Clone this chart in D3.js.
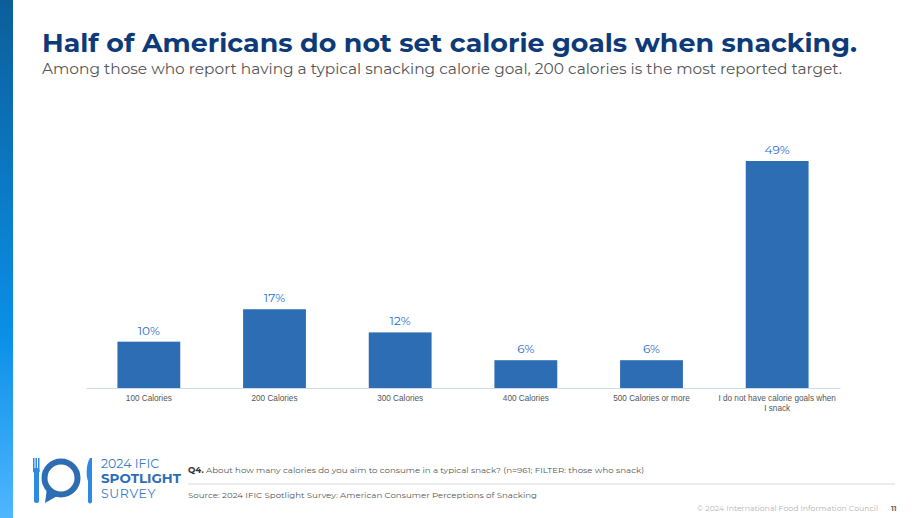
<!DOCTYPE html>
<html>
<head>
<meta charset="utf-8">
<script src="https://cdn.jsdelivr.net/npm/d3@7"></script>
<style>
  body { margin: 0; background: #fff; }
  svg { display: block; font-family: Montserrat, "Open Sans", "Noto Sans", sans-serif; }
</style>
</head>
<body>
<svg id="chart" width="920" height="518"></svg>
<script>
// chart data
const categories = ["100 Calories", "200 Calories", "300 Calories", "400 Calories", "500 Calories or more", "I do not have calorie goals when I snack"];
const values = [10, 17, 12, 6, 6, 49];

const title = "Half of Americans do not set calorie goals when snacking.";
const subtitle = "Among those who report having a typical snacking calorie goal, 200 calories is the most reported target.";

const svg = d3.select("#chart");

// left accent strip
const grad = svg.append("defs").append("linearGradient")
  .attr("id", "strip").attr("x1", 0).attr("x2", 0).attr("y1", 0).attr("y2", 1);
grad.append("stop").attr("offset", "0%").attr("stop-color", "#0c5e9a");
grad.append("stop").attr("offset", "65%").attr("stop-color", "#0a90e8");
grad.append("stop").attr("offset", "100%").attr("stop-color", "#50b6ff");
svg.append("rect").attr("x", 0).attr("y", 0).attr("width", 13).attr("height", 518).attr("fill", "url(#strip)");

// heading
svg.append("text")
  .attr("x", 42).attr("y", 52)
  .attr("fill", "#0d3a78")
  .attr("font-size", 26).attr("font-weight", 700)
  .attr("textLength", 815).attr("lengthAdjust", "spacingAndGlyphs")
  .text(title);
svg.append("text")
  .attr("x", 42).attr("y", 74)
  .attr("fill", "#555")
  .attr("font-size", 15)
  .attr("textLength", 800).attr("lengthAdjust", "spacingAndGlyphs")
  .text(subtitle);

// scales
const x = d3.scaleBand().domain(categories).range([86, 840]).paddingInner(0.5).paddingOuter(0.25);
const y = d3.scaleLinear().domain([0, 49]).range([388, 161]);

const g = svg.append("g");

g.selectAll("rect.bar")
  .data(values)
  .enter()
  .append("rect")
  .attr("class", "bar")
  .attr("x", (d, i) => x(categories[i]))
  .attr("y", (d) => y(d))
  .attr("width", x.bandwidth())
  .attr("height", (d) => y(0) - y(d))
  .attr("fill", "#2d6db4");

g.selectAll("text.val")
  .data(values)
  .enter()
  .append("text")
  .attr("class", "val")
  .attr("x", (d, i) => x(categories[i]) + x.bandwidth() / 2)
  .attr("y", (d) => y(d) - 7)
  .attr("text-anchor", "middle")
  .attr("fill", "#1f6fd0")
  .attr("font-size", 12)
  .text((d) => d + "%");

// axis
const axis = svg.append("g")
  .attr("transform", "translate(0," + y(0) + ")")
  .call(d3.axisBottom(x).tickSize(0).tickPadding(0));
axis.select(".domain").attr("stroke", "#c9def4").attr("stroke-width", 1.2);
axis.selectAll(".tick text").remove();

// category labels, wrapped
categories.forEach((c) => {
  const lines = c.length > 24 ? ["I do not have calorie goals when", "I snack"] : [c];
  const t = axis.append("text")
    .attr("x", x(c) + x.bandwidth() / 2)
    .attr("y", 13)
    .attr("text-anchor", "middle")
    .attr("fill", "#555")
    .attr("font-size", 8.2);
  lines.forEach((l, i) => {
    t.append("tspan").attr("x", x(c) + x.bandwidth() / 2).attr("dy", i ? 9.5 : 0).text(l);
  });
});

// footer logo
const logo = svg.append("g");
const blue = "#2d6db4";
// fork
logo.append("rect").attr("x", 34).attr("y", 470).attr("width", 5).attr("height", 33).attr("rx", 2.5).attr("fill", "#2d8ae0");
[33, 35.5, 38].forEach((fx) => {
  logo.append("rect").attr("x", fx).attr("y", 458).attr("width", 1.5).attr("height", 14).attr("fill", "#2d8ae0");
});
logo.append("rect").attr("x", 33).attr("y", 468).attr("width", 6.5).attr("height", 5).attr("rx", 2).attr("fill", "#2d8ae0");
// plate / speech bubble
logo.append("circle").attr("cx", 61).attr("cy", 478).attr("r", 16.5).attr("fill", "none").attr("stroke", blue).attr("stroke-width", 6);
logo.append("path").attr("d", "M47,488 L45,503 L59,495 Z").attr("fill", blue);
// knife
logo.append("path").attr("d", "M90,458 C86,464 86,476 88,481 L88,502 Q90,505 92,502 L92,458 Z").attr("fill", "#2d8ae0");

logo.append("text").attr("x", 101).attr("y", 468).attr("fill", "#3a7cc8").attr("font-size", 12.5).text("2024 IFIC");
logo.append("text").attr("x", 101).attr("y", 483).attr("fill", "#2d6db4").attr("font-size", 12.5).attr("font-weight", 700)
  .attr("textLength", 80).attr("lengthAdjust", "spacingAndGlyphs").text("SPOTLIGHT");
logo.append("text").attr("x", 101).attr("y", 498).attr("fill", "#3a7cc8").attr("font-size", 12.5)
  .attr("letter-spacing", 0.6).text("SURVEY");

// question and source
const q = svg.append("text").attr("x", 188).attr("y", 473).attr("fill", "#555").attr("font-size", 8.2)
  .attr("textLength", 456).attr("lengthAdjust", "spacingAndGlyphs");
q.append("tspan").attr("font-weight", 700).attr("fill", "#333").text("Q4.");
q.append("tspan").text(" About how many calories do you aim to consume in a typical snack? (n=961; FILTER: those who snack)");
svg.append("line").attr("x1", 188).attr("x2", 895).attr("y1", 484).attr("y2", 484).attr("stroke", "#d9d9d9");
svg.append("text").attr("x", 188).attr("y", 498).attr("fill", "#555").attr("font-size", 8.2)
  .attr("textLength", 349).attr("lengthAdjust", "spacingAndGlyphs")
  .text("Source: 2024 IFIC Spotlight Survey: American Consumer Perceptions of Snacking");
svg.append("text").attr("x", 878).attr("y", 511).attr("text-anchor", "end").attr("fill", "#b5b5b5").attr("font-size", 7.5)
  .attr("textLength", 181).attr("lengthAdjust", "spacingAndGlyphs")
  .text("© 2024 International Food Information Council");
svg.append("text").attr("x", 891).attr("y", 511).attr("fill", "#666").attr("font-size", 7).attr("font-weight", 700).text("11");
</script>
</body>
</html>
